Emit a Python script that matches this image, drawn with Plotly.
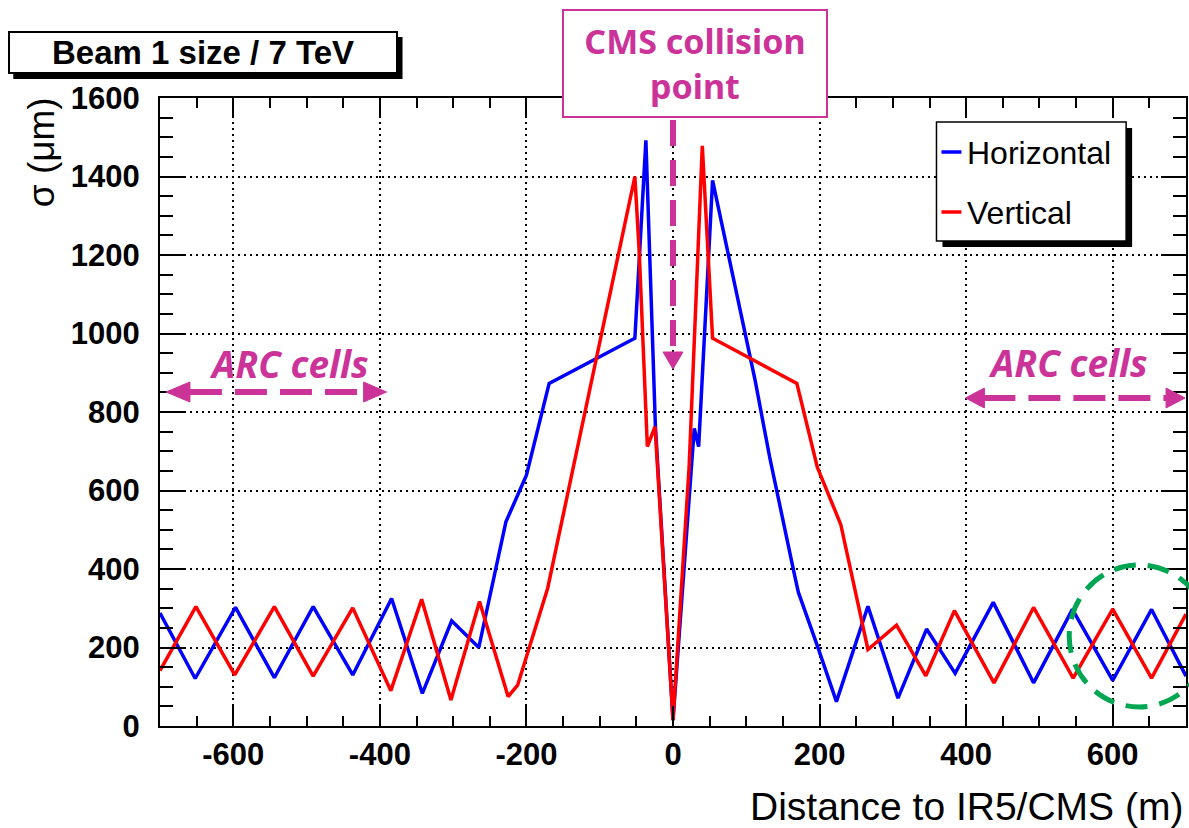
import plotly.graph_objects as go

# ---------------- data ----------------
h_x = [-700, -652, -597, -544, -491, -437, -384, -342, -302, -265, -228, -200, -169,
       -52, -37, -24, 0, 29, 35, 54, 112, 132, 165, 171, 197, 223, 266, 307, 346,
       385, 437, 492, 545, 600, 653, 700]
h_y = [288, 121, 302, 123, 304, 130, 325, 83, 268, 200, 520, 639, 873,
       988, 1492, 763, 15, 758, 712, 1390, 881, 684, 392, 341, 204, 62, 305, 71, 247,
       134, 315, 110, 297, 116, 297, 127]

v_x = [-700, -651, -598, -544, -491, -437, -385, -343, -303, -264, -225, -212, -171,
       -52, -46, -35, -24.5, 0, 22, 40, 54, 169, 197, 229, 266, 305, 345,
       384, 438, 492, 546, 600, 653, 700]
v_y = [141, 304, 130, 304, 127, 301, 90, 323, 66, 317, 75, 104, 351,
       1400, 1205, 712, 763, 15, 660, 1478, 988, 873, 659, 513, 195, 257, 128,
       294, 110, 302, 122, 298, 122, 285]

x_tick_vals = [-600, -400, -200, 0, 200, 400, 600]
x_tick_text = ["-600", "-400", "-200", "0", "200", "400", "600"]
y_tick_vals = [0, 200, 400, 600, 800, 1000, 1200, 1400, 1600]
y_tick_text = ["0", "200", "400", "600", "800", "1000", "1200", "1400", "1600"]

series_names = ["Horizontal", "Vertical"]
series_colors = ["#0000ff", "#ff0000"]

# ---------------- layout helpers (pixel -> paper) ----------------
W, H = 1189, 828
L, R, T, B = 160, 1188, 98, 726


def PX(x):
    return (x - L) / (R - L)


def PY(y):
    return (B - y) / (B - T)


MAG = "#cc3399"
GREEN = "#00a651"
HELV = "Liberation Sans, Arial, Helvetica, sans-serif"
COMIC = "Noto Sans, sans-serif"

fig = go.Figure()
fig.add_trace(go.Scatter(x=h_x, y=h_y, mode="lines", name=series_names[0],
                         line=dict(color=series_colors[0], width=3.5), showlegend=False))
fig.add_trace(go.Scatter(x=v_x, y=v_y, mode="lines", name=series_names[1],
                         line=dict(color=series_colors[1], width=3.5), showlegend=False))

axis_common = dict(
    ticks="inside", tickwidth=2, tickcolor="black",
    showline=True, linecolor="black", linewidth=2, mirror="allticks",
    showgrid=True, gridcolor="black", gridwidth=1.5, griddash="2px,4px",
    zeroline=False,
    tickfont=dict(family=HELV, size=31, color="black", weight="bold"),
)

fig.update_layout(
    width=W, height=H,
    margin=dict(l=L, r=W - R, t=T, b=H - B),
    plot_bgcolor="white",
    showlegend=False,
)
fig.update_xaxes(dict(axis_common, range=[-700, 700], tickmode="array",
                      tickvals=x_tick_vals, ticktext=x_tick_text, ticklen=20,
                      minor=dict(ticks="inside", ticklen=10, tickcolor="black", dtick=50)))
fig.update_yaxes(dict(axis_common, range=[0, 1600], tickmode="array",
                      tickvals=y_tick_vals, ticktext=y_tick_text, ticklen=25,
                      ticklabelstandoff=12,
                      minor=dict(ticks="inside", ticklen=13, tickcolor="black", dtick=50)))

shapes = []


def rect(x0, y0, x1, y1, fill, line_color=None, lw=0):
    shapes.append(dict(type="rect", xref="paper", yref="paper", layer="above",
                       x0=PX(x0), x1=PX(x1), y0=PY(y1), y1=PY(y0),
                       fillcolor=fill, line=dict(color=line_color or fill, width=lw)))


def seg(x0, y0, x1, y1, color, lw, dash="solid"):
    shapes.append(dict(type="line", xref="paper", yref="paper", layer="above",
                       x0=PX(x0), x1=PX(x1), y0=PY(y0), y1=PY(y1),
                       line=dict(color=color, width=lw, dash=dash)))


def tri(points, color):
    p = "M " + " L ".join(f"{PX(a)},{PY(b)}" for a, b in points) + " Z"
    shapes.append(dict(type="path", xref="paper", yref="paper", layer="above", path=p,
                       fillcolor=color, line=dict(color=color, width=1)))


# title box shadow
rect(13, 37, 403, 79, "black")
# legend shadow + box
rect(944, 128, 1134, 247, "black")
rect(938, 122, 1128, 241, "white", "black", 1.5)
seg(943, 152, 963, 152, series_colors[0], 3.5)
seg(943, 212, 963, 212, series_colors[1], 3.5)

# CMS collision point arrow (vertical, dashed)
seg(674, 120, 674, 354, MAG, 6, "26px,14px")
tri([(664, 352), (684, 352), (674, 369)], MAG)

# Left ARC cells double arrow
seg(190, 392, 364, 392, MAG, 6, "32px,13px")
tri([(166, 392), (190, 382), (190, 402)], MAG)
tri([(387, 392), (364, 382), (364, 402)], MAG)

# Right ARC cells double arrow
seg(985, 398, 1170, 398, MAG, 6, "32px,13px")
tri([(967, 398), (986, 388), (986, 408)], MAG)
tri([(1187, 398), (1168, 388), (1168, 408)], MAG)

# green dashed circle
shapes.append(dict(type="circle", xref="paper", yref="paper", layer="above",
                   x0=PX(1071), x1=PX(1211), y0=PY(707), y1=PY(565),
                   line=dict(color=GREEN, width=5, dash="22px,12px")))

fig.update_layout(shapes=shapes)


def ann(**kw):
    d = dict(xref="paper", yref="paper", showarrow=False)
    d.update(kw)
    return d


annotations = [
    # title box
    ann(text="Beam 1 size / 7 TeV", x=PX(203), y=PY(53), xanchor="center", yanchor="middle",
        font=dict(family=HELV, size=33, color="black", weight="bold"),
        bgcolor="white", bordercolor="black", borderwidth=2, borderpad=0, width=386, height=39),
    # y title
    ann(text="σ (μm)", x=PX(41), y=PY(152), xanchor="center", yanchor="middle",
        textangle=-90, font=dict(family=HELV, size=37, color="black")),
    # x title
    ann(text="Distance to IR5/CMS (m)", x=PX(1187), y=PY(806), xanchor="right", yanchor="middle",
        font=dict(family=HELV, size=39, color="black")),
    # CMS box
    ann(text="CMS collision<br>point", x=PX(696), y=PY(63.5), xanchor="center", yanchor="middle",
        font=dict(family=COMIC, size=34, color=MAG, weight="bold"),
        bgcolor="white", bordercolor=MAG, borderwidth=2, borderpad=0, width=262, height=105),
    # ARC cells labels
    ann(text="<i>ARC cells</i>", x=PX(289), y=PY(363), xanchor="center", yanchor="middle",
        font=dict(family=COMIC, size=37, color=MAG, weight="bold")),
    ann(text="<i>ARC cells</i>", x=PX(1070), y=PY(362), xanchor="center", yanchor="middle",
        font=dict(family=COMIC, size=37, color=MAG, weight="bold")),
    # legend labels
    ann(text=series_names[0], x=PX(967), y=PY(153), xanchor="left", yanchor="middle",
        font=dict(family=HELV, size=32, color="black")),
    ann(text=series_names[1], x=PX(967), y=PY(213), xanchor="left", yanchor="middle",
        font=dict(family=HELV, size=32, color="black")),
]
fig.update_layout(annotations=annotations)

fig.write_html("out.html", config={"displayModeBar": False},
               post_script="document.body.style.margin='0px';")
